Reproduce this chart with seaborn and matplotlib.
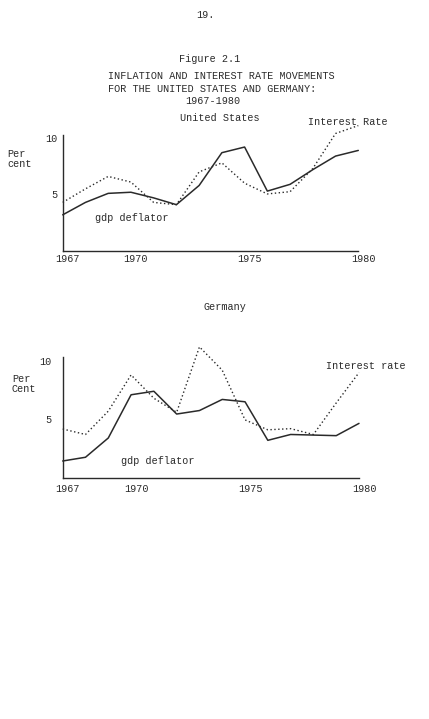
import matplotlib
matplotlib.use("Agg")
import matplotlib.pyplot as plt
import matplotlib.transforms as mtransforms
import seaborn as sns
import pandas as pd
from matplotlib.ticker import FixedLocator, MultipleLocator

# ---------------- data ----------------
years = list(range(1967, 1981))

us_gdp_deflator = [3.2, 4.3, 5.1, 5.2, 4.7, 4.1, 5.8, 8.7, 9.2, 5.3, 5.9, 7.2, 8.4, 8.9]
us_interest_rate = [4.3, 5.5, 6.6, 6.1, 4.3, 4.1, 7.0, 7.8, 6.0, 5.05, 5.25, 7.3, 10.4, 11.1]

de_gdp_deflator = [1.43, 1.75, 3.4, 7.1, 7.4, 5.45, 5.75, 6.7, 6.5, 3.2, 3.7, 3.65, 3.6, 4.65]
de_interest_rate = [4.17, 3.7, 5.7, 8.8, 6.8, 5.6, 11.2, 9.2, 4.95, 4.1, 4.2, 3.7, 6.4, 9.0]

x_tick_years = [1967, 1970, 1975, 1980]
x_tick_labels = ["1967", "1970", "1975", "1980"]
y_tick_values = [5, 10]
y_tick_labels = ["5", "10"]

page_number = "19."
figure_label = "Figure 2.1"
title_lines = ["INFLATION AND INTEREST RATE MOVEMENTS",
               "FOR THE UNITED STATES AND GERMANY:"]
title_years = "1967-1980"

# ---------------- style ----------------
sns.set_style("white")
plt.rcParams["font.family"] = ["Liberation Mono", "DejaVu Sans Mono"]
FS = 7.3
INK = "#2a2a2a"

W, H = 429, 719
fig = plt.figure(figsize=(W / 100, H / 100), dpi=100)
fig.patch.set_facecolor("white")


def fx(x):
    return x / W


def fy(y):
    return 1 - y / H


def add_panel(left_px, right_px, bottom_px, px_per_unit, ymax, pad_x, pad_y):
    h_px = ymax * px_per_unit
    ax = fig.add_axes([fx(left_px), fy(bottom_px), (right_px - left_px) / W, h_px / H])
    ax.set_facecolor("none")
    ax.set_xlim(1967, 1980)
    ax.set_ylim(0, ymax)
    for s in ["top", "right"]:
        ax.spines[s].set_visible(False)
    for s in ["left", "bottom"]:
        ax.spines[s].set_color(INK)
        ax.spines[s].set_linewidth(1.0)
    ax.spines["left"].set_bounds(0, 10.3)
    ax.xaxis.set_major_locator(FixedLocator(x_tick_years))
    ax.set_xticklabels(x_tick_labels)
    ax.xaxis.set_minor_locator(MultipleLocator(1))
    ax.tick_params(axis="x", which="both", direction="in", length=3, width=1,
                   color=INK, labelsize=FS, labelcolor=INK, pad=pad_x)
    shift = mtransforms.ScaledTranslation(5 / 100, 0, fig.dpi_scale_trans)
    for lab in ax.get_xticklabels():
        lab.set_transform(lab.get_transform() + shift)
    ax.set_yticks(y_tick_values)
    ax.set_yticklabels(y_tick_labels)
    ax.tick_params(axis="y", direction="out", length=2, width=1, color=INK,
                   labelsize=FS, labelcolor=INK, pad=pad_y)
    ax.set_xlabel("")
    ax.set_ylabel("")
    return ax


def draw_lines(ax, gdp, rate):
    df = pd.DataFrame({"year": years, "gdp": gdp, "rate": rate})
    sns.lineplot(data=df, x="year", y="gdp", ax=ax, color=INK, linewidth=1.1,
                 clip_on=False)
    sns.lineplot(data=df, x="year", y="rate", ax=ax, color=INK, linewidth=1.0,
                 linestyle=(0, (1, 1.8)), clip_on=False)
    ax.set_xlabel("")
    ax.set_ylabel("")


# United States panel
ax_us = add_panel(62.7, 358.3, 251, 11.3, 11.5, pad_x=2.5, pad_y=1.5)
draw_lines(ax_us, us_gdp_deflator, us_interest_rate)

# Germany panel
ax_de = add_panel(62.7, 359.0, 477.7, 11.68, 11.5, pad_x=4.5, pad_y=6)
draw_lines(ax_de, de_gdp_deflator, de_interest_rate)

# ---------------- text ----------------
def t(x, y, s, ha="left", va="center"):
    fig.text(fx(x), fy(y), s, ha=ha, va=va, fontsize=FS, color=INK)

t(205, 15, page_number, ha="center")
t(210, 59, figure_label, ha="center")
t(108, 76, title_lines[0])
t(108, 89, title_lines[1])
t(213, 101, title_years, ha="center")

t(220, 118, "United States", ha="center")
t(308, 122, "Interest Rate")
t(95, 218, "gdp deflator")
fig.text(fx(7), fy(159), "Per\ncent", ha="left", va="center", fontsize=FS,
         color=INK, linespacing=1.1)

t(225, 307, "Germany", ha="center")
t(326, 366, "Interest rate")
t(121, 461, "gdp deflator")
fig.text(fx(12), fy(384), "Per\nCent", ha="left", va="center", fontsize=FS,
         color=INK, linespacing=1.1)

fig.savefig("out.png", dpi=100, facecolor="white")
